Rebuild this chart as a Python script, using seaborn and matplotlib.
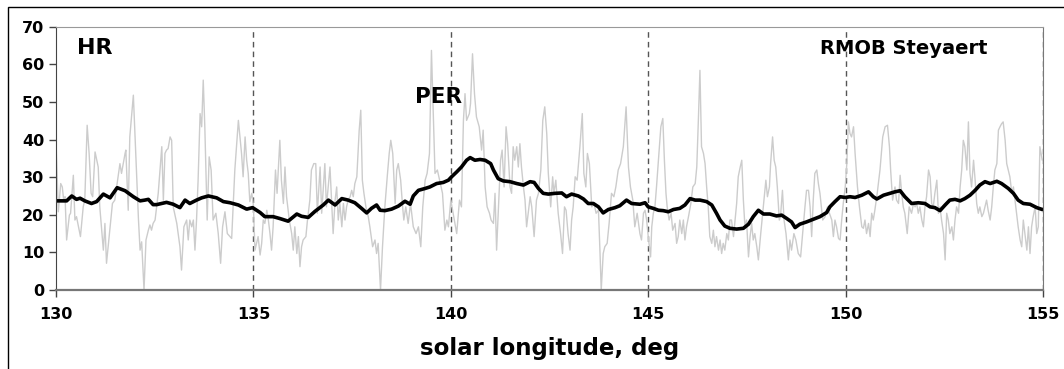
import matplotlib
matplotlib.use("Agg")
import matplotlib.pyplot as plt
import seaborn as sns
import pandas as pd
from matplotlib.patches import Rectangle

sns.set_style("white")
plt.rcParams['font.family'] = ['DejaVu Sans']
plt.rcParams['font.weight'] = 'bold'
plt.rcParams['text.color'] = 'black'
plt.rcParams['axes.labelcolor'] = 'black'
plt.rcParams['xtick.color'] = 'black'
plt.rcParams['ytick.color'] = 'black'

# hourly rates (gray)
hr_sl = [
    130.00, 130.06, 130.12, 130.16, 130.20, 130.23, 130.27, 130.34, 130.37, 130.44,
    130.48, 130.52, 130.57, 130.62, 130.69, 130.73, 130.79, 130.84, 130.89, 130.93,
    130.99, 131.07, 131.11, 131.20, 131.24, 131.28, 131.37, 131.43, 131.49, 131.62,
    131.66, 131.75, 131.77, 131.83, 131.87, 131.96,
    132.09, 132.13, 132.17, 132.23, 132.28, 132.34, 132.38, 132.42, 132.46, 132.51,
    132.59, 132.68, 132.72, 132.76, 132.80, 132.84, 132.89, 132.93, 132.97, 133.06,
    133.14, 133.18, 133.24, 133.31, 133.35, 133.39, 133.44, 133.48, 133.52, 133.56,
    133.60, 133.65, 133.69, 133.73, 133.77, 133.83, 133.88, 133.93, 133.98, 134.05,
    134.11, 134.17, 134.22, 134.28, 134.34, 134.41, 134.45, 134.53, 134.62,
    134.70, 134.74, 134.79, 134.83, 134.87, 134.91, 134.96, 135.00, 135.04, 135.08,
    135.12, 135.17, 135.21, 135.25, 135.29, 135.34, 135.38, 135.42, 135.46, 135.50,
    135.56, 135.60, 135.67, 135.71, 135.76, 135.80, 135.84, 135.91, 135.97, 136.01,
    136.05, 136.10, 136.14, 136.18, 136.22, 136.26, 136.33, 136.37, 136.43, 136.47,
    136.53, 136.58, 136.62, 136.69, 136.73, 136.81, 136.85, 136.94,
    137.02, 137.07, 137.11, 137.15, 137.19, 137.24, 137.28, 137.32, 137.36, 137.40,
    137.45, 137.49, 137.53, 137.57, 137.62, 137.68, 137.72, 137.76, 137.80, 137.85,
    137.91, 137.95, 138.02, 138.08, 138.12, 138.16, 138.22, 138.27, 138.33, 138.39,
    138.44, 138.48, 138.53, 138.59, 138.63, 138.67, 138.73, 138.78, 138.81, 138.86,
    138.92, 138.98, 139.05, 139.12, 139.18, 139.24, 139.29, 139.35, 139.40, 139.46,
    139.51, 139.56, 139.60, 139.66,
    139.79, 139.85, 139.90, 139.94, 140.00, 140.06, 140.15, 140.22, 140.27, 140.32,
    140.36, 140.40, 140.47, 140.50, 140.55, 140.60, 140.65, 140.72, 140.78, 140.82,
    140.87, 140.92, 140.98, 141.02, 141.08, 141.12, 141.16, 141.20, 141.26, 141.30,
    141.35, 141.40, 141.44, 141.50, 141.54, 141.58, 141.62, 141.67, 141.71, 141.75,
    141.79, 141.84, 141.88, 141.92, 141.96, 142.01,
    142.05, 142.11, 142.17, 142.22, 142.28, 142.33, 142.38, 142.43, 142.47, 142.53,
    142.58, 142.61, 142.66, 142.72, 142.78, 142.83, 142.88, 142.92, 142.97, 143.02,
    143.06, 143.10, 143.15, 143.20, 143.27, 143.33, 143.37, 143.42, 143.46, 143.51,
    143.57, 143.63, 143.68, 143.74, 143.78, 143.81, 143.86, 143.90, 143.96, 144.01,
    144.07, 144.13, 144.18, 144.24, 144.30, 144.37, 144.44, 144.50, 144.55, 144.61,
    144.66, 144.72,
    144.79, 144.83, 144.88, 144.92, 144.96, 145.00, 145.06, 145.09, 145.13, 145.17,
    145.21, 145.26, 145.32, 145.37, 145.41, 145.45, 145.48, 145.53, 145.58, 145.62,
    145.68, 145.72, 145.76, 145.80, 145.85, 145.89, 145.93, 145.97, 146.02, 146.08,
    146.13, 146.19, 146.23, 146.27, 146.31, 146.35, 146.40, 146.44, 146.48, 146.52,
    146.56, 146.61, 146.65, 146.69, 146.73, 146.78, 146.82, 146.86, 146.90, 146.94,
    146.99, 147.03, 147.07,
    147.11, 147.16, 147.20, 147.24, 147.28, 147.33, 147.37, 147.41, 147.45, 147.49,
    147.54, 147.58, 147.62, 147.66, 147.70, 147.75, 147.79, 147.85, 147.90, 147.94,
    147.98, 148.02, 148.07, 148.10, 148.15, 148.19, 148.23, 148.27, 148.32, 148.35,
    148.40, 148.44, 148.49, 148.55, 148.59, 148.63, 148.69, 148.74, 148.80, 148.86,
    148.91, 148.97, 149.01, 149.06, 149.10, 149.14, 149.18, 149.22, 149.27, 149.31,
    149.35, 149.42, 149.48, 149.54, 149.59,
    149.65, 149.69, 149.73, 149.77, 149.82, 149.86, 149.90, 149.94, 149.99, 150.03,
    150.07, 150.11, 150.15, 150.20, 150.24, 150.30, 150.35, 150.41, 150.45, 150.49,
    150.53, 150.58, 150.62, 150.66, 150.70, 150.74, 150.80, 150.87, 150.94, 151.00,
    151.06, 151.11, 151.14, 151.19, 151.25, 151.29, 151.34, 151.38, 151.42, 151.46,
    151.50, 151.56, 151.61, 151.67, 151.72, 151.76, 151.80, 151.84, 151.88, 151.93,
    151.97, 152.01, 152.05, 152.10, 152.14,
    152.18, 152.22, 152.26, 152.31, 152.35, 152.39, 152.43, 152.48, 152.52, 152.56,
    152.60, 152.64, 152.69, 152.73, 152.77, 152.81, 152.86, 152.90, 152.94, 152.98,
    153.02, 153.07, 153.11, 153.15, 153.19, 153.24, 153.28, 153.32, 153.36, 153.40,
    153.45, 153.49, 153.53, 153.57, 153.61, 153.66, 153.70, 153.74, 153.78, 153.83,
    153.87, 153.91, 153.95, 153.99, 154.04, 154.08, 154.12, 154.16, 154.21, 154.25,
    154.29, 154.33, 154.37, 154.42, 154.46, 154.50, 154.54, 154.59, 154.63, 154.67,
    154.71, 154.75, 154.80, 154.84, 154.88, 154.92, 154.98,
]
hr_raw = [
    39.8, 20.8, 28.3, 27.4, 23.5, 24.8, 13.3, 19.9, 20.4, 30.5,
    18.6, 19.5, 16.8, 14.2, 22.1, 23.9, 43.8, 36.3, 25.7, 24.8,
    36.7, 32.7, 22.1, 10.6, 17.7, 7.1, 16.8, 23.0, 23.9, 33.6,
    31.0, 36.3, 37.2, 21.2, 40.7, 51.8,
    18.6, 10.6, 12.8, 0.0, 13.3, 15.9, 17.3, 15.9, 17.7, 18.6,
    25.7, 38.1, 23.9, 36.3, 37.2, 37.6, 40.7, 39.8, 22.1, 17.7,
    11.5, 5.3, 16.8, 18.6, 13.3, 18.6, 16.8, 18.6, 10.6, 18.6,
    29.2, 46.9, 43.4, 55.8, 43.4, 18.6, 35.4, 31.9, 18.6, 20.4,
    15.0, 7.1, 16.8, 20.8, 15.0, 14.2, 13.7, 31.9, 45.1,
    36.3, 30.1, 40.7, 34.5, 31.0, 23.5, 25.7, 22.6, 10.6, 12.4,
    14.2, 9.3, 12.4, 18.6, 17.7, 21.2, 18.6, 15.0, 10.6, 16.8,
    31.9, 25.7, 39.8, 29.2, 23.0, 32.7, 24.8, 18.6, 15.0, 10.6,
    16.8, 9.7, 14.2, 6.2, 11.5, 13.3, 14.2, 18.6, 23.9, 31.9,
    33.6, 33.6, 20.4, 32.7, 20.4, 33.6, 22.1, 32.7,
    15.0, 23.9, 27.4, 18.6, 23.0, 16.8, 23.0, 18.6, 22.1, 23.9,
    24.8, 26.5, 24.8, 28.3, 30.1, 42.5, 47.8, 29.2, 25.7, 22.1,
    19.5, 16.8, 11.5, 13.3, 9.7, 12.4, 0.0, 11.5, 22.1, 30.1,
    36.3, 39.8, 36.3, 23.0, 31.9, 33.6, 29.2, 22.1, 18.6, 22.1,
    17.7, 23.0, 16.8, 15.0, 16.8, 11.5, 22.1, 29.2, 31.0, 36.3,
    63.7, 45.1, 31.0, 31.9,
    25.7, 15.9, 18.6, 16.8, 23.9, 20.4, 15.0, 23.9, 22.1, 45.1,
    52.2, 45.1, 46.9, 49.6, 62.8, 52.2, 46.0, 43.4, 37.2, 42.5,
    27.4, 22.1, 20.4, 18.6, 17.7, 25.7, 10.6, 20.4, 34.5, 37.2,
    27.4, 43.4, 38.9, 27.4, 25.7, 38.1, 34.5, 38.1, 32.7, 38.9,
    32.7, 27.4, 23.9, 16.8, 20.4, 24.8,
    22.1, 14.2, 23.9, 25.7, 31.9, 45.1, 48.7, 41.6, 31.0, 22.1,
    30.1, 25.7, 29.2, 20.4, 15.0, 9.7, 22.1, 21.2, 15.0, 10.6,
    18.6, 22.1, 30.1, 29.2, 38.1, 46.9, 31.0, 27.4, 36.3, 33.6,
    22.1, 23.0, 20.4, 21.2, 9.7, 0.0, 9.7, 11.5, 12.4, 17.7,
    25.7, 24.8, 27.4, 31.9, 33.6, 38.1, 48.7, 32.7, 27.4, 23.9,
    16.8, 20.4,
    15.0, 13.3, 20.4, 21.2, 18.6, 14.2, 8.8, 16.8, 20.4, 22.1,
    27.4, 34.5, 43.4, 45.6, 34.5, 25.7, 22.1, 18.6, 20.4, 15.9,
    17.7, 12.4, 14.2, 18.6, 15.0, 18.6, 13.3, 16.8, 19.5, 23.0,
    27.4, 28.3, 32.7, 45.1, 58.4, 38.1, 36.3, 33.6, 27.4, 22.1,
    14.2, 12.4, 15.9, 11.5, 14.2, 10.6, 13.3, 9.7, 12.4, 10.6,
    15.0, 13.3, 18.6,
    18.6, 14.2, 18.6, 23.0, 30.1, 32.7, 34.5, 23.9, 16.8, 18.6,
    8.8, 14.2, 17.7, 13.3, 15.0, 11.5, 8.0, 15.0, 20.4, 24.8,
    29.2, 24.8, 27.4, 33.6, 40.7, 34.5, 32.7, 27.4, 18.6, 19.5,
    26.5, 18.6, 15.0, 8.0, 13.3, 10.6, 15.0, 13.3, 9.7, 8.8,
    15.0, 22.1, 26.5, 26.5, 22.1, 14.2, 23.9, 31.0, 31.9, 28.3,
    25.7, 18.6, 19.5, 22.1, 20.4,
    18.6, 14.2, 18.6, 16.8, 13.7, 13.3, 18.6, 23.0, 27.4, 33.6,
    44.7, 41.6, 40.7, 43.4, 36.3, 27.4, 22.1, 16.8, 16.4, 18.6,
    15.0, 17.7, 14.2, 20.4, 18.6, 21.2, 25.7, 31.9, 40.7, 43.4,
    43.8, 38.1, 31.9, 23.9, 27.4, 23.9, 23.0, 30.5, 25.7, 22.1,
    20.4, 15.0, 22.1, 20.4, 23.0, 22.1, 23.0, 20.4, 22.1, 18.6,
    16.8, 22.1, 24.8, 31.9, 30.1,
    23.0, 22.1, 25.7, 29.2, 20.4, 22.1, 18.6, 15.0, 8.0, 20.4,
    18.6, 15.0, 16.8, 13.3, 18.6, 22.1, 20.4, 27.4, 31.9, 39.8,
    38.1, 31.9, 44.7, 31.0, 27.4, 34.5, 29.2, 23.0, 20.4, 22.1,
    19.5, 20.4, 22.1, 23.9, 21.2, 18.6, 22.1, 27.4, 31.9, 33.6,
    42.5, 43.4, 44.2, 44.7, 39.8, 33.6, 31.9, 30.1, 25.7, 27.4,
    23.9, 20.4, 16.8, 13.3, 11.5, 18.6, 15.0, 10.6, 16.8, 9.7,
    16.8, 19.5, 22.1, 15.0, 16.8, 38.1, 34.5,
]

# running average (black)
avg_sl = [
    130.00, 130.27, 130.40, 130.52, 130.61, 130.73, 130.90, 131.03, 131.20, 131.37,
    131.55, 131.75, 131.96, 132.13, 132.25, 132.34, 132.46, 132.55, 132.68, 132.80,
    132.97, 133.14, 133.27, 133.39, 133.56, 133.69, 133.86, 134.07, 134.24, 134.41,
    134.62, 134.83, 134.98, 135.17, 135.29, 135.50, 135.67, 135.88, 136.10, 136.22,
    136.39, 136.56, 136.77, 136.90, 137.07, 137.24, 137.40, 137.57, 137.74, 137.87,
    137.99, 138.12, 138.21, 138.33, 138.50, 138.67, 138.84, 138.97, 139.05, 139.18,
    139.35, 139.47, 139.64, 139.81, 139.94, 140.02, 140.15, 140.27, 140.40, 140.49,
    140.61, 140.74, 140.87, 141.01, 141.08, 141.20, 141.33, 141.50, 141.67, 141.84,
    142.01, 142.11, 142.22, 142.34, 142.47, 142.64, 142.81, 142.93, 143.06, 143.23,
    143.36, 143.48, 143.61, 143.74, 143.86, 143.99, 144.16, 144.28, 144.45, 144.58,
    144.79, 144.92, 145.00, 145.13, 145.26, 145.38, 145.51, 145.64, 145.80, 145.93,
    146.06, 146.19, 146.31, 146.48, 146.61, 146.73, 146.82, 146.94, 147.07, 147.24,
    147.41, 147.54, 147.66, 147.79, 147.92, 148.08, 148.25, 148.38, 148.51, 148.63,
    148.72, 148.84, 149.01, 149.18, 149.35, 149.52, 149.60, 149.73, 149.86, 149.99,
    150.11, 150.24, 150.41, 150.58, 150.70, 150.79, 150.96, 151.12, 151.25, 151.38,
    151.50, 151.67, 151.84, 152.01, 152.14, 152.26, 152.39, 152.52, 152.64, 152.77,
    152.90, 153.02, 153.15, 153.28, 153.40, 153.53, 153.66, 153.83, 153.95, 154.12,
    154.25, 154.37, 154.50, 154.67, 154.84, 154.98,
]
avg_hr = [
    23.7, 23.7, 25.0, 24.1, 24.4, 23.7, 23.0, 23.5, 25.5, 24.5,
    27.2, 26.4, 24.8, 23.7, 23.9, 24.1, 22.7, 22.7, 23.0, 23.3,
    22.8, 21.9, 23.9, 23.0, 23.9, 24.5, 25.0, 24.5, 23.5, 23.2,
    22.6, 21.5, 21.9, 20.6, 19.5, 19.5, 19.0, 18.3, 20.2, 19.6,
    19.3, 20.9, 22.6, 23.9, 22.6, 24.3, 23.9, 23.2, 21.7, 20.5,
    21.7, 22.6, 21.2, 21.1, 21.5, 22.3, 23.6, 22.8, 25.0, 26.5,
    27.0, 27.4, 28.3, 28.6, 29.2, 30.1, 31.4, 32.7, 34.5, 35.2,
    34.5, 34.7, 34.5, 33.6, 31.9, 29.6, 29.0, 28.8, 28.3, 27.9,
    28.8, 28.6, 27.0, 25.7, 25.5, 25.7, 25.8, 24.8, 25.5, 25.0,
    24.2, 23.0, 23.0, 22.1, 20.5, 21.4, 21.9, 22.4, 23.9, 23.0,
    22.8, 23.2, 22.1, 21.7, 21.2, 21.1, 20.8, 21.4, 21.7, 22.6,
    24.3, 23.9, 23.9, 23.5, 22.6, 20.4, 18.6, 17.0, 16.4, 16.2,
    16.4, 17.5, 19.5, 21.2, 20.2, 20.2, 19.7, 19.9, 19.0, 18.1,
    16.6, 17.5, 18.1, 18.8, 19.5, 20.6, 22.1, 23.5, 24.8, 24.6,
    24.8, 24.6, 25.2, 26.1, 24.8, 24.2, 25.2, 25.7, 26.1, 26.4,
    24.8, 23.0, 23.2, 23.0, 22.1, 21.9, 21.1, 22.6, 23.9, 24.1,
    23.7, 24.3, 25.2, 26.5, 27.9, 28.8, 28.3, 28.9, 28.3, 27.0,
    25.7, 23.9, 23.0, 22.8, 21.9, 21.4,
]

x_ticks = [130, 135, 140, 145, 150, 155]
y_ticks = [0, 10, 20, 30, 40, 50, 60, 70]
grid_sl = [135, 140, 145, 150, 155]

raw_df = pd.DataFrame({"sl": hr_sl, "hr": hr_raw})
avg_df = pd.DataFrame({"sl": avg_sl, "hr": avg_hr})

fig = plt.figure(figsize=(10.64, 3.69), dpi=100)
ax = fig.add_axes([0.0526, 0.2141, 0.9277, 0.7135])

sns.lineplot(data=raw_df, x="sl", y="hr", color="#cccccc", lw=1.0,
             estimator=None, sort=False, ax=ax)
sns.lineplot(data=avg_df, x="sl", y="hr", color="black", lw=2.6,
             estimator=None, sort=False, ax=ax)

for g in grid_sl:
    ax.axvline(g, color="#555555", lw=1.0, ls=(0, (4, 3)), zorder=0)

ax.set_xlim(130, 155)
ax.set_ylim(0, 70)
ax.set_xticks(x_ticks)
ax.set_yticks(y_ticks)
ax.tick_params(axis="both", direction="out", length=5, width=1, color="#444444",
               labelsize=11.5, left=True, bottom=True)
ax.tick_params(axis="x", pad=7)
for lab in ax.get_xticklabels() + ax.get_yticklabels():
    lab.set_fontweight("bold")
ax.set_xlabel("solar longitude, deg", fontsize=16.5, fontweight="bold", labelpad=11)
ax.set_ylabel("")

ax.spines["left"].set_color("#444444")
ax.spines["bottom"].set_color("#777777")
ax.spines["bottom"].set_linewidth(1.6)
ax.spines["top"].set_color("#999999")
ax.spines["right"].set_color("#777777")

ax.text(130.53, 64.3, "HR", fontsize=16, fontweight="bold", va="center", ha="left")
ax.text(139.09, 51.2, "PER", fontsize=15.5, fontweight="bold", va="center", ha="left")
ax.text(149.35, 64.3, "RMOB Steyaert", fontsize=14, fontweight="bold", va="center", ha="left")

fig.add_artist(Rectangle((8 / 1064, -0.1), 1.2, 1.1 - 7 / 369, transform=fig.transFigure,
                         fill=False, ec="black", lw=1.0))

fig.savefig("out.png", dpi=100)
